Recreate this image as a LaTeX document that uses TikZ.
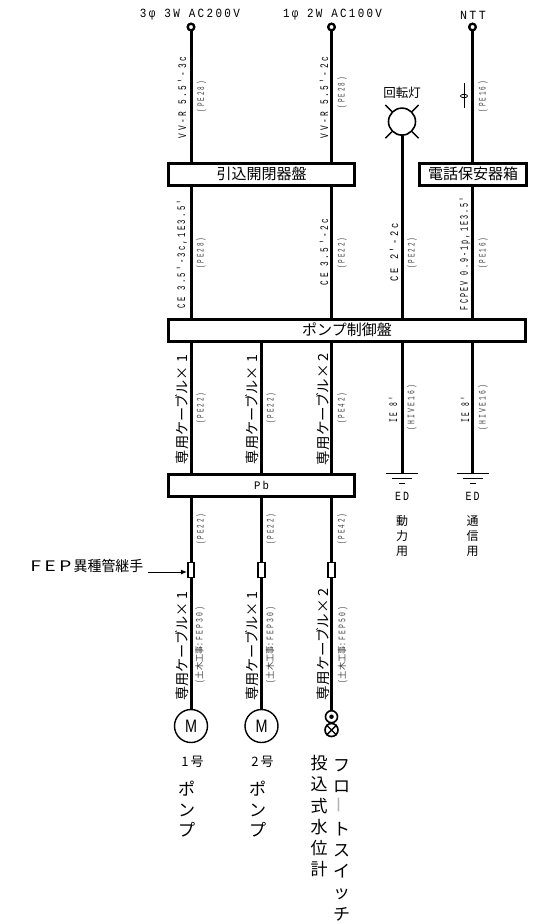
\documentclass[tikz,border=0pt]{standalone}
\usepackage{fontspec}
\usetikzlibrary{arrows.meta}
\setmainfont{Liberation Sans}
\newfontfamily\jp{Noto Sans CJK JP}
\newfontfamily\monotop[FakeStretch=0.85,LetterSpace=18]{Liberation Mono}
\newfontfamily\monolab[FakeStretch=0.7,LetterSpace=22]{Liberation Mono}
\newcommand{\fitw}[2]{\resizebox{#1}{\height}{#2}}
\tikzset{
  wire/.style={line width=3pt},
  panel/.style={draw,line width=3pt,fill=white,inner sep=0pt,minimum height=22pt},
  term/.style={circle,draw,line width=2.2pt,fill=white,minimum size=6.5pt,inner sep=0pt},
  toplab/.style={font=\monotop\fontsize{12.5}{14}\selectfont,inner sep=0pt},
  panlab/.style={font=\jp\fontsize{15}{17}\selectfont,inner sep=0pt},
  cab/.style={rotate=90,font=\monolab\fontsize{11.5}{13}\selectfont,inner sep=0pt},
  pe/.style={rotate=90,font=\monolab\fontsize{10}{12}\selectfont,text=black!75,inner sep=0pt},
  ded/.style={rotate=90,font=\jp\fontsize{14}{16}\selectfont,inner sep=0pt},
  coup/.style={draw,line width=1.6pt,fill=white,minimum width=6.5pt,minimum height=15pt,inner sep=0pt},
  motor/.style={circle,draw,line width=1.4pt,fill=white,minimum size=33pt,inner sep=0pt},
  column/.style={align=center,font=\jp\fontsize{17}{21.3}\selectfont,inner sep=0pt},
  small/.style={align=center,font=\jp\fontsize{12}{15}\selectfont,inner sep=0pt},
  gnd/.style={line width=1.6pt}
}
\begin{document}
\begin{tikzpicture}[x=1pt,y=-1pt]
\useasboundingbox (0,0) rectangle (545,924);
% sources
\node[term] (s1) at (191,27) {};
\node[term] (s2) at (331.5,27) {};
\node[term] (s3) at (472.5,27) {};
\node[toplab] (t1) at (190,15) {\fitw{100pt}{3φ 3W AC200V}};
\node[toplab] (t2) at (332.5,15) {\fitw{99pt}{1φ 2W AC100V}};
\node[toplab] (t3) at (473,15) {\fitw{26pt}{NTT}};
% panels
\node[panel,minimum width=186pt] (hk) at (261.5,174) {};
\node[panel,minimum width=107pt] (tel) at (473,174) {};
\node[panel,minimum width=357pt] (ctl) at (347,330) {};
\node[panel,minimum width=186pt] (pb) at (261.5,485) {};
\node[panlab] at (hk) {引込開閉器盤};
\node[panlab] at (tel) {電話保安器箱};
\node[panlab] at (ctl) {ポンプ制御盤};
\node[font=\monotop\fontsize{11.5}{13}\selectfont,inner sep=0pt] at (pb) {\fitw{15pt}{Pb}};
% lamp
\node[circle,draw,line width=1.6pt,minimum size=27pt,inner sep=0pt] (lamp) at (402,121.6) {};
\draw[line width=1.5pt] (lamp.135) -- ++(-6.5,-6.5) (lamp.45) -- ++(6.5,-6.5) (lamp.225) -- ++(-6.5,6.5) (lamp.315) -- ++(6.5,6.5);
\node[font=\jp\fontsize{12.5}{14}\selectfont,inner sep=0pt] (lamplab) at (402,93) {回転灯};
% anchors for the control-panel branches
\coordinate (a1) at (191,330);
\coordinate (a2) at (261.5,330);
\coordinate (a3) at (331.5,330);
\coordinate (a4) at (402,330);
\coordinate (a5) at (472.5,330);
% couplers and loads
\node[coup] (c1) at (191,570) {};
\node[coup] (c2) at (261.5,570) {};
\node[coup] (c3) at (331.5,570) {};
\node[motor] (m1) at (191,726) {\fontsize{18}{20}\selectfont\scalebox{.8}[1]{M}};
\node[motor] (m2) at (261.5,726) {\fontsize{18}{20}\selectfont\scalebox{.8}[1]{M}};
\node[circle,draw,line width=1.6pt,fill=white,minimum size=12pt,inner sep=0pt] (f1) at (331.5,716.7) {};
\node[circle,fill=black,minimum size=4.5pt,inner sep=0pt] (f1d) at (f1) {};
\node[circle,draw,line width=1.6pt,fill=white,minimum size=13pt,inner sep=0pt] (f2) at (331.5,730) {};
\draw[line width=1.4pt] (f2.45) -- (f2.225) (f2.135) -- (f2.315);
% grounds
\coordinate (g1) at (402,473.5);
\coordinate (g2) at (472.5,473.5);
\draw[gnd] (386,473.5) -- (418,473.5) (392,478.5) -- (412,478.5) (399,483.5) -- (405,483.5);
\draw[gnd] (456.5,473.5) -- (488.5,473.5) (462.5,478.5) -- (482.5,478.5) (469.5,483.5) -- (475.5,483.5);
% wires
\begin{scope}[wire]
\draw (s1) -- (s1 |- hk.north);
\draw (s2) -- (s2 |- hk.north);
\draw (s3) -- (s3 |- tel.north);
\draw (s1 |- hk.south) -- (s1 |- ctl.north);
\draw (s2 |- hk.south) -- (s2 |- ctl.north);
\draw (s3 |- tel.south) -- (s3 |- ctl.north);
\draw (lamp.south) -- (lamp |- ctl.north);
\draw (a1 |- ctl.south) -- (a1 |- pb.north);
\draw (a2 |- ctl.south) -- (a2 |- pb.north);
\draw (a3 |- ctl.south) -- (a3 |- pb.north);
\draw (a4 |- ctl.south) -- (g1);
\draw (a5 |- ctl.south) -- (g2);
\draw (a1 |- pb.south) -- (c1.north);
\draw (a2 |- pb.south) -- (c2.north);
\draw (a3 |- pb.south) -- (c3.north);
\draw (c1.south) -- (m1.north);
\draw (c2.south) -- (m2.north);
\draw (c3.south) -- (f1.north);
\end{scope}
\node[term] (s1b) at (s1) {};
\node[term] (s2b) at (s2) {};
\node[term] (s3b) at (s3) {};
% telephone mark
\coordinate (tm) at (464,96);
\draw[line width=1pt] (464,83) -- (464,108);
\draw[line width=.8pt] (tm) ellipse [x radius=3.5pt,y radius=1.7pt];
% cable labels upper
\node[cab] (l1) at (182,97.5) {\fitw{81pt}{VV-R 5.5'-3c}};
\node[pe] (p1) at (201.5,96.5) {\fitw{31pt}{(PE28)}};
\node[cab] (l2) at (324,97.5) {\fitw{81pt}{VV-R 5.5'-2c}};
\node[pe] (p2) at (342,92.5) {\fitw{31pt}{(PE28)}};
\node[pe] (p3) at (483,96.5) {\fitw{31pt}{(PE16)}};
\node[cab] (l3) at (182,254) {\fitw{108pt}{CE 3.5'-3c,1E3.5'}};
\node[pe] (p4) at (201,253) {\fitw{31pt}{(PE28)}};
\node[cab] (l4) at (324,252) {\fitw{66pt}{CE 3.5'-2c}};
\node[pe] (p5) at (342,253) {\fitw{31pt}{(PE22)}};
\node[cab] (l5) at (394,252) {\fitw{58pt}{CE 2'-2c}};
\node[pe] (p6) at (412,253) {\fitw{31pt}{(PE22)}};
\node[cab] (l6) at (465,253.5) {\fitw{113pt}{FCPEV 0.9-1p,1E3.5'}};
\node[pe] (p7) at (483,253) {\fitw{31pt}{(PE16)}};
% dedicated cable labels
\node[ded] (d1) at (182,409.5) {\fitw{109pt}{専用ケーブル× 1}};
\node[ded] (d2) at (252,409.5) {\fitw{109pt}{専用ケーブル× 1}};
\node[ded] (d3) at (323,409) {\fitw{112pt}{専用ケーブル× 2}};
\node[pe] (p8) at (201,408) {\fitw{31pt}{(PE22)}};
\node[pe] (p9) at (271,408) {\fitw{31pt}{(PE22)}};
\node[pe] (p10) at (342,408) {\fitw{31pt}{(PE42)}};
\node[cab] (l7) at (393,409.5) {\fitw{25pt}{IE 8'}};
\node[pe] (p11) at (411.7,407.5) {\fitw{45pt}{(HIVE16)}};
\node[cab] (l8) at (465,409.5) {\fitw{25pt}{IE 8'}};
\node[pe] (p12) at (483,407.5) {\fitw{45pt}{(HIVE16)}};
% ED
\node[font=\monotop\fontsize{12.5}{14}\selectfont,inner sep=0pt] (e1) at (402,496) {\fitw{14pt}{ED}};
\node[font=\monotop\fontsize{12.5}{14}\selectfont,inner sep=0pt] (e2) at (472.5,496) {\fitw{14pt}{ED}};
\node[small,anchor=north] (u1) at (402,515.5) {動\\力\\用};
\node[small,anchor=north] (u2) at (472.5,515.5) {通\\信\\用};
% lower labels
\node[pe] (p13) at (201,529) {\fitw{31pt}{(PE22)}};
\node[pe] (p14) at (271,529) {\fitw{31pt}{(PE22)}};
\node[pe] (p15) at (342,529) {\fitw{31pt}{(PE42)}};
\node[ded] (d4) at (182,646) {\fitw{109pt}{専用ケーブル× 1}};
\node[ded] (d5) at (252,646) {\fitw{109pt}{専用ケーブル× 1}};
\node[ded] (d6) at (323,644) {\fitw{112pt}{専用ケーブル× 2}};
\node[pe] (q1) at (200,645) {\fitw{76pt}{({\jp\fontsize{9}{10}\selectfont 土木工事}:FEP30)}};
\node[pe] (q2) at (270.7,645) {\fitw{76pt}{({\jp\fontsize{9}{10}\selectfont 土木工事}:FEP30)}};
\node[pe] (q3) at (342.7,645) {\fitw{76pt}{({\jp\fontsize{9}{10}\selectfont 土木工事}:FEP50)}};
% FEP
\node[font=\jp\fontsize{14.5}{16}\selectfont,inner sep=0pt,anchor=east] (fep) at (143.5,565.7) {\fitw{113pt}{\scalebox{1.4}[1]{F\,E\,P}\,異種管継手}};
\coordinate (fepa) at (148,572);
\draw[line width=1pt,-{Latex[length=6pt,width=5pt]}] (fepa) -- (c1.west |- fepa);
% bottom captions
\node[small,font=\jp\fontsize{13}{15}\selectfont] (n1) at (192.5,762) {1\,号};
\node[small,font=\jp\fontsize{13}{15}\selectfont] (n2) at (262.5,762) {2\,号};
\node[column,anchor=north,font=\jp\fontsize{17}{20.5}\selectfont] (w1) at (186.7,781) {ポ\\ン\\プ};
\node[column,anchor=north,font=\jp\fontsize{17}{20.5}\selectfont] (w2) at (257.7,781) {ポ\\ン\\プ};
\node[column,anchor=north] (w3) at (319,755) {投\\込\\式\\水\\位\\計};
\node[column,anchor=north] (w4) at (341.7,759) {フ\\ロ\\{\color{black!30}\rotatebox{90}{ー}}\\ト\\ス\\イ\\ッ\\チ};
\end{tikzpicture}
\end{document}
